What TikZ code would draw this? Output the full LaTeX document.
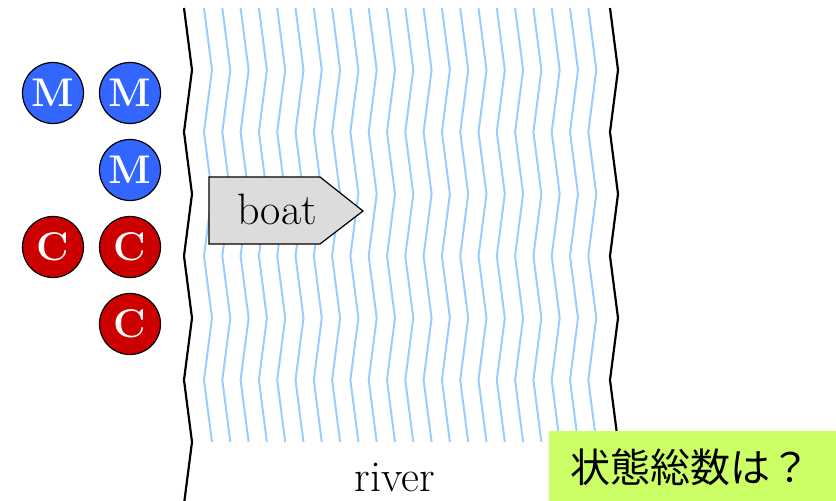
\documentclass[tikz,border=0pt]{standalone}
\usepackage{fontspec}
\newfontfamily\cjk{Noto Sans CJK JP}
\begin{document}
\begin{tikzpicture}[x=0.5pt,y=-0.5pt,
  bank/.style={draw=black,line width=1.1pt,line join=miter},
  wave/.style={draw=waterblue,line width=1pt},
  person/.style={circle,draw=black,line width=0.6pt,minimum size=30.5pt,inner sep=0pt,text=white,font=\bfseries\fontsize{20}{20}\selectfont},
  missionary/.style={person,fill=mblue},
  cannibal/.style={person,fill=cred},
  boatshape/.style={draw=black,line width=0.6pt,fill=boatgray},
  lbl/.style={font=\fontsize{22}{26}\selectfont,inner sep=0pt}]
\definecolor{waterblue}{RGB}{153,204,255}
\definecolor{mblue}{RGB}{51,102,255}
\definecolor{cred}{RGB}{204,0,0}
\definecolor{boatgray}{RGB}{220,220,220}
\definecolor{qgreen}{RGB}{204,255,102}
\useasboundingbox (0,0) rectangle (836,501);
% water lines
\foreach \i in {0,...,21}{
  \pgfmathsetmacro{\xa}{204+18.3*\i}
  \pgfmathsetmacro{\xb}{212+18.3*\i}
  \draw[wave] (\xa,8) -- (\xb,70) -- (\xa,132) -- (\xb,194) -- (\xa,256) -- (\xb,318) -- (\xa,380) -- (\xb,442);
}
% banks
\draw[bank] (184,8) -- (192,70) -- (184,132) -- (192,194) -- (184,256) -- (192,318) -- (184,380) -- (192,442) -- (184.4,501);
\draw[bank] (610,8) -- (618,70) -- (610,132) -- (618,194) -- (610,256) -- (618,318) -- (610,380) -- (618,442) -- (610.4,501);
% boat
\draw[boatshape] (209,177) -- (320,177) -- (363,211) -- (320,244) -- (209,244) -- cycle;
\node[lbl,anchor=base] (boat) at (277,225) {boat};
% people
\node[missionary] (m1) at (53,93) {M};
\node[missionary] (m2) at (130,93) {M};
\node[missionary] (m3) at (130,170) {M};
\node[cannibal] (c1) at (53,247) {C};
\node[cannibal] (c2) at (130,247) {C};
\node[cannibal] (c3) at (130,324) {C};
% river label
\node[lbl,anchor=base] (river) at (395,492) {river};
% question box
\fill[qgreen] (549,431) rectangle (836,501);
\node[font=\cjk\fontsize{20}{20}\selectfont,inner sep=0pt] (q) at (690,467) {状態総数は？};
\end{tikzpicture}
\end{document}
